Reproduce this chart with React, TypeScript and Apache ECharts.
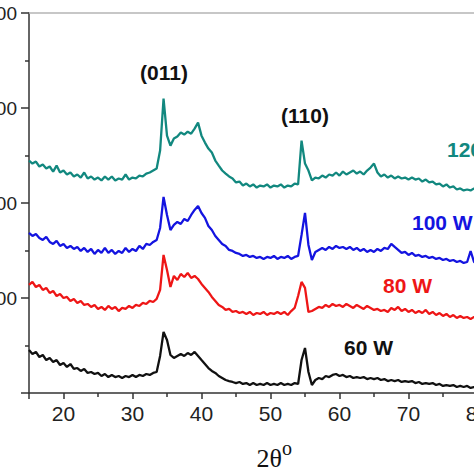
import React, { useEffect, useRef } from "react";
import * as echarts from "echarts";

// 2θ positions (degrees)
const TWO_THETA = [
  15, 15.5, 16, 16.5, 17, 17.5, 18, 18.5, 19, 19.5,
  20, 20.5, 21, 21.5, 22, 22.5, 23, 23.5, 24, 24.5,
  25, 25.5, 26, 26.5, 27, 27.5, 28, 28.5, 29, 29.5,
  30, 30.5, 31, 31.5, 32, 32.5, 33, 33.5, 34, 34.5,
  35, 35.5, 36, 36.5, 37, 37.5, 38, 38.5, 39, 39.5,
  40, 40.5, 41, 41.5, 42, 42.5, 43, 43.5, 44, 44.5,
  45, 45.5, 46, 46.5, 47, 47.5, 48, 48.5, 49, 49.5,
  50, 50.5, 51, 51.5, 52, 52.5, 53, 53.5, 54, 54.5,
  55, 55.5, 56, 56.5, 57, 57.5, 58, 58.5, 59, 59.5,
  60, 60.5, 61, 61.5, 62, 62.5, 63, 63.5, 64, 64.5,
  65, 65.5, 66, 66.5, 67, 67.5, 68, 68.5, 69, 69.5,
  70, 70.5, 71, 71.5, 72, 72.5, 73, 73.5, 74, 74.5,
  75, 75.5, 76, 76.5, 77, 77.5, 78, 78.5, 79, 79.5,
  80,
];

// intensities (a.u., stacked offsets as in the figure)
const W120 = [
  2447, 2415, 2436, 2384, 2405, 2363, 2384, 2331, 2394, 2321,
  2342, 2300, 2321, 2279, 2300, 2268, 2321, 2258, 2279, 2247,
  2268, 2237, 2279, 2247, 2279, 2237, 2258, 2247, 2300, 2247,
  2268, 2258, 2289, 2279, 2310, 2321, 2342, 2363, 2552, 3098,
  2709, 2604, 2678, 2699, 2741, 2720, 2751, 2730, 2783, 2846,
  2709, 2636, 2573, 2531, 2447, 2394, 2342, 2310, 2279, 2258,
  2216, 2226, 2184, 2205, 2174, 2195, 2163, 2184, 2174, 2195,
  2163, 2184, 2174, 2195, 2163, 2184, 2174, 2205, 2195, 2657,
  2415, 2342, 2237, 2268, 2258, 2289, 2268, 2300, 2289, 2321,
  2289, 2331, 2300, 2321, 2342, 2310, 2331, 2300, 2342, 2373,
  2415, 2321, 2279, 2300, 2268, 2289, 2258, 2279, 2258, 2268,
  2247, 2268, 2247, 2258, 2226, 2247, 2216, 2226, 2195, 2205,
  2174, 2195, 2163, 2174, 2142, 2153, 2132, 2142, 2132, 2153,
  2132,
];

const W100 = [
  1685, 1653, 1674, 1632, 1611, 1643, 1590, 1569, 1601, 1548,
  1569, 1527, 1548, 1516, 1537, 1495, 1527, 1485, 1516, 1464,
  1506, 1474, 1527, 1474, 1506, 1464, 1495, 1474, 1527, 1485,
  1516, 1495, 1548, 1516, 1569, 1558, 1590, 1611, 1737, 2064,
  1874, 1716, 1769, 1801, 1780, 1832, 1811, 1874, 1927, 1969,
  1895, 1843, 1758, 1716, 1653, 1611, 1569, 1548, 1506, 1495,
  1474, 1464, 1443, 1453, 1432, 1443, 1422, 1432, 1411, 1432,
  1422, 1443, 1411, 1432, 1422, 1443, 1411, 1432, 1443, 1664,
  1895, 1558, 1400, 1485, 1506, 1527, 1506, 1537, 1516, 1548,
  1527, 1537, 1516, 1537, 1506, 1527, 1495, 1516, 1485, 1506,
  1485, 1516, 1495, 1527, 1516, 1569, 1537, 1506, 1474, 1485,
  1453, 1474, 1443, 1453, 1432, 1443, 1422, 1432, 1411, 1422,
  1400, 1411, 1390, 1400, 1379, 1390, 1369, 1379, 1495, 1379,
  1358,
];

const W80 = [
  1137, 1169, 1116, 1137, 1085, 1106, 1053, 1074, 1021, 1042,
  1000, 1011, 969, 990, 948, 969, 927, 937, 906, 927,
  885, 906, 874, 916, 885, 906, 863, 895, 885, 916,
  895, 927, 916, 948, 937, 969, 958, 990, 1085, 1453,
  1295, 1116, 1232, 1190, 1253, 1221, 1264, 1211, 1232, 1200,
  1148, 1106, 1064, 1011, 969, 927, 906, 874, 885, 853,
  863, 842, 853, 832, 853, 821, 842, 832, 853, 821,
  842, 832, 853, 832, 853, 821, 863, 895, 1021, 1169,
  1106, 853, 863, 885, 906, 895, 927, 906, 937, 916,
  927, 906, 937, 916, 895, 927, 906, 885, 916, 895,
  874, 885, 863, 874, 853, 895, 874, 906, 863, 885,
  853, 874, 842, 863, 842, 874, 832, 853, 821, 842,
  811, 832, 800, 821, 790, 811, 790, 800, 779, 800,
  790,
];

const W60 = [
  453, 411, 432, 379, 400, 347, 369, 326, 347, 295,
  316, 274, 305, 253, 263, 232, 253, 211, 221, 200,
  211, 179, 200, 168, 190, 168, 179, 158, 179, 168,
  190, 168, 190, 179, 200, 190, 211, 221, 390, 642,
  558, 400, 369, 390, 411, 390, 421, 400, 432, 390,
  347, 305, 263, 232, 211, 179, 158, 137, 126, 116,
  105, 116, 95, 105, 84, 105, 84, 95, 84, 105,
  84, 95, 84, 105, 84, 95, 84, 105, 95, 347,
  474, 221, 84, 137, 158, 147, 179, 168, 190, 200,
  179, 190, 168, 179, 158, 168, 158, 168, 147, 158,
  147, 158, 137, 147, 126, 137, 126, 137, 116, 126,
  116, 126, 105, 116, 95, 105, 95, 105, 84, 95,
  74, 84, 74, 84, 63, 74, 63, 74, 53, 63,
  53,
];

const SERIES_NAMES = ["60 W", "80 W", "100 W", "120 W"];
const SERIES_COLORS = ["#111111", "#ee1616", "#1414e0", "#12887f"];
const PEAK_LABELS = ["(011)", "(110)"];

const SANS = "'Liberation Sans', Arial, sans-serif";
const SERIF = "'Liberation Serif', 'Times New Roman', serif";

export default function App() {
  const ref = useRef<HTMLDivElement>(null);

  useEffect(() => {
    document.body.style.margin = "0";
    if (!ref.current) return;
    const chart = echarts.init(ref.current, undefined, { renderer: "svg" });
    const all = [W60, W80, W100, W120];
    const series = all.map((vals, i) => ({
      name: SERIES_NAMES[i],
      type: "line",
      xAxisIndex: 0,
      yAxisIndex: 0,
      showSymbol: false,
      symbol: "none",
      data: TWO_THETA.map((x, j) => [x, vals[j]]),
      lineStyle: { color: SERIES_COLORS[i], width: 2.3 },
      itemStyle: { color: SERIES_COLORS[i] },
    }));

    const txt = (
      text: string,
      x: number,
      y: number,
      fill: string,
      align: string
    ) => ({
      type: "text",
      x,
      y,
      z: 10,
      style: {
        text,
        fill,
        font: `bold 21px ${SANS}`,
        textAlign: align,
        align,
        textVerticalAlign: "middle",
        verticalAlign: "middle",
      },
    });

    chart.setOption({
      animation: false,
      backgroundColor: "#ffffff",
      grid: {
        left: 29,
        top: 13,
        width: 448.5,
        height: 380,
        containLabel: false,
        outerBoundsMode: "none",
      },
      xAxis: [
        {
          type: "value",
          min: 15,
          max: 80,
          minInterval: 10,
          maxInterval: 10,
          position: "bottom",
          name: "{a|2θ}{b|o}",
          nameLocation: "middle",
          nameGap: 45,
          nameTextStyle: {
            padding: [0, 0, 0, 42],
            rich: {
              a: {
                fontFamily: SERIF,
                fontSize: 26,
                color: "#111",
                padding: [7, 0, 0, 0],
              },
              b: {
                fontFamily: SERIF,
                fontSize: 20,
                color: "#111",
                verticalAlign: "top",
              },
            },
          },
          axisLine: { lineStyle: { color: "#333", width: 1.5 } },
          axisTick: { show: true, inside: false, length: 6, lineStyle: { color: "#333", width: 1.5 } },
          minorTick: { show: true, splitNumber: 2, length: 4, lineStyle: { color: "#333", width: 1.5 } },
          axisLabel: {
            showMinLabel: false,
            margin: 10,
            fontSize: 21,
            fontFamily: SANS,
            color: "#222",
            formatter: (v: number) => String(v),
          },
          splitLine: { show: false },
          minorSplitLine: { show: false },
        },
        {
          type: "value",
          min: 15,
          max: 80,
          position: "top",
          axisLine: { show: true, lineStyle: { color: "#b5b5b5", width: 1.5 } },
          axisTick: { show: false },
          axisLabel: { show: false },
          splitLine: { show: false },
        },
      ],
      yAxis: {
        type: "value",
        min: 0,
        max: 4000,
        interval: 1000,
        axisLine: { show: true, lineStyle: { color: "#333", width: 1.5 } },
        axisTick: { show: true, inside: false, length: 8, lineStyle: { color: "#333", width: 1.5 } },
        minorTick: { show: true, splitNumber: 2, length: 4, lineStyle: { color: "#333", width: 1.5 } },
        axisLabel: {
          showMinLabel: false,
          margin: 12,
          fontSize: 19,
          fontFamily: SANS,
          color: "#222",
          formatter: (v: number) => String(v),
        },
        splitLine: { show: false },
      },
      series,
      graphic: [
        txt(PEAK_LABELS[0], 164, 72, "#111", "center"),
        txt(PEAK_LABELS[1], 305, 115, "#111", "center"),
        txt(SERIES_NAMES[3], 447, 149, SERIES_COLORS[3], "left"),
        txt(SERIES_NAMES[2], 412, 222, SERIES_COLORS[2], "left"),
        txt(SERIES_NAMES[1], 383, 285, SERIES_COLORS[1], "left"),
        txt(SERIES_NAMES[0], 344, 347, SERIES_COLORS[0], "left"),
      ],
    });
    return () => chart.dispose();
  }, []);

  return (
    <div
      ref={ref}
      style={{ position: "absolute", left: 0, top: 0, width: 474, height: 474 }}
    />
  );
}
